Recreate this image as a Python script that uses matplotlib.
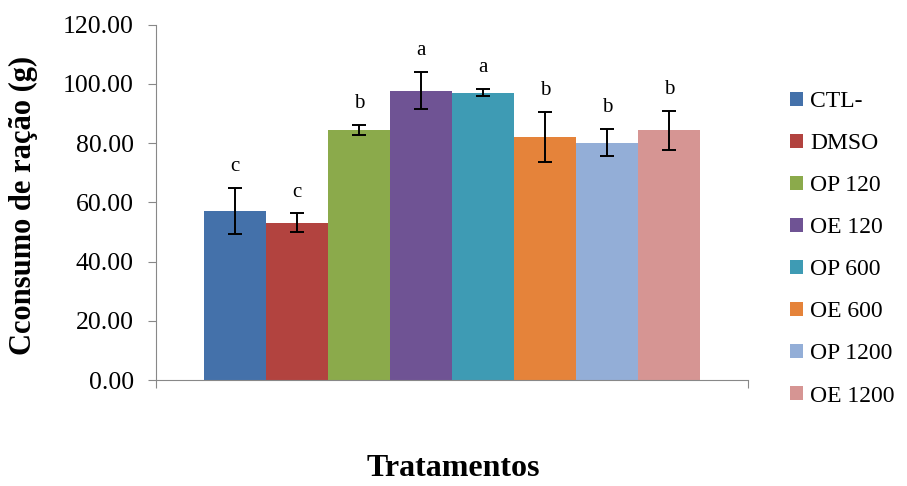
import matplotlib.pyplot as plt
import numpy as np

# dados
tratamentos = ['CTL-', 'DMSO', 'OP 120', 'OE 120', 'OP 600', 'OE 600', 'OP 1200', 'OE 1200']
consumo = [57.2, 53.1, 84.4, 97.7, 97.1, 82.2, 80.2, 84.4]
erro = [7.8, 3.2, 1.7, 6.3, 1.2, 8.5, 4.5, 6.6]
letras = ['c', 'c', 'b', 'a', 'a', 'b', 'b', 'b']
cores = ['#4471AA', '#B2433F', '#8BAA4B', '#6F5394', '#3E9BB4',
         '#E5833A', '#93AED7', '#D69593']

plt.rcParams['font.family'] = ['Liberation Serif', 'DejaVu Serif']

fig = plt.figure(figsize=(9.07, 4.86), dpi=100)
ax = fig.add_axes([0.172, 0.218, 0.653, 0.731])

x = np.arange(len(tratamentos))
for i in range(len(tratamentos)):
    ax.bar(x[i], consumo[i], width=1.0, color=cores[i], label=tratamentos[i])
    ax.errorbar(x[i], consumo[i], yerr=erro[i], fmt='none', ecolor='black',
                elinewidth=1.4, capsize=5, capthick=1.4)
    ax.text(x[i], consumo[i] + erro[i] + 4.0, letras[i], ha='center',
            va='bottom', fontsize=15)

ax.set_ylim(0, 120)
ax.set_yticks(np.arange(0, 121, 20))
ax.set_yticklabels(['%.2f' % v for v in np.arange(0, 121, 20)], fontsize=18.5)
ax.set_xlim(-1.28, 8.28)
ax.set_xticks([-1.28, 8.28])
ax.set_xticklabels(['', ''])
ax.tick_params(axis='both', direction='out', length=6, color='#888888')
ax.tick_params(axis='y', pad=10)

for s in ['top', 'right']:
    ax.spines[s].set_visible(False)
for s in ['left', 'bottom']:
    ax.spines[s].set_color('#888888')

fig.text(0.026, 0.578, 'Cconsumo de ração (g)', rotation=90, ha='center',
         va='center', fontsize=22, fontweight='bold')
fig.text(0.5, 0.035, 'Tratamentos', ha='center', va='center',
         fontsize=23, fontweight='bold')

ax.legend(loc='center left', bbox_to_anchor=(1.071, 0.369), frameon=False,
          fontsize=17, handlelength=0.55, handleheight=0.55,
          handletextpad=0.3, labelspacing=0.89, borderaxespad=0, borderpad=0)

fig.savefig('out.png', dpi=100)
